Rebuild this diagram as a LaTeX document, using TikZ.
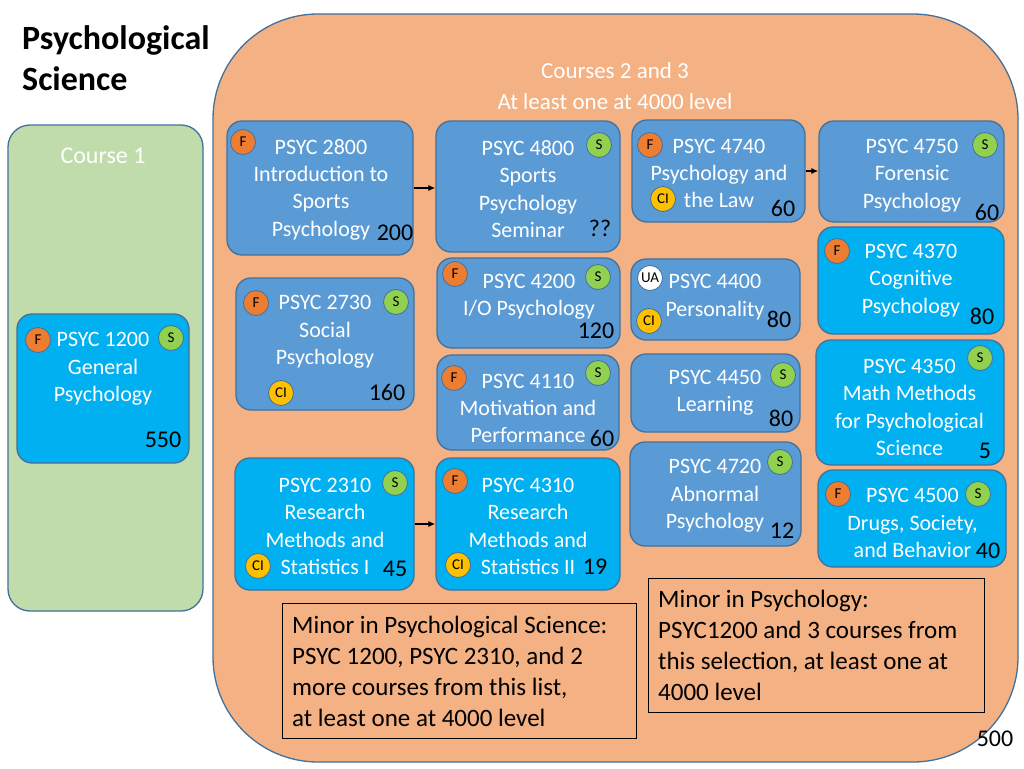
\documentclass[tikz,border=0pt]{standalone}
\usepackage{fontspec}
\setmainfont{Carlito}
\usetikzlibrary{fit,arrows.meta}
\definecolor{orangebg}{HTML}{F4B183}
\definecolor{greenbg}{HTML}{C0DCAA}
\definecolor{steelc}{HTML}{5B9BD5}
\definecolor{brightc}{HTML}{00B0F0}
\definecolor{bordc}{HTML}{41719C}
\definecolor{fbadge}{HTML}{ED7D31}
\definecolor{sbadge}{HTML}{92D050}
\definecolor{cibadge}{HTML}{FFC000}
\tikzset{
 coursebox/.style={draw=bordc, line width=1.3pt, rounded corners=15pt, inner sep=0pt},
 steel/.style={coursebox, fill=steelc},
 bright/.style={coursebox, fill=brightc},
 ctext/.style={text=white, align=center, font=\fontsize{22}{27.3}\selectfont, inner sep=0pt},
 num/.style={text=black, font=\fontsize{24}{28}\selectfont, inner sep=0pt},
 badge/.style={circle, draw=bordc, line width=0.8pt, minimum size=25pt, inner sep=0pt, font=\fontsize{15}{17}\selectfont, text=black},
 fb/.style={badge, fill=fbadge},
 sb/.style={badge, fill=sbadge},
 cib/.style={badge, fill=cibadge},
 uab/.style={badge, fill=white},
 arr/.style={-{Latex[length=7pt,width=6pt]}, line width=1.2pt, black},
 minorbox/.style={draw=black, line width=1pt, inner sep=0pt},
 minortext/.style={text=black, align=left, font=\fontsize{25}{31}\selectfont, inner sep=0pt, anchor=west},
}
\begin{document}
\begin{tikzpicture}[x=1pt,y=-1pt]
\useasboundingbox (0,0) rectangle (1024,768);
\fill[white] (0,0) rectangle (1024,768);

% title
\node[anchor=west, align=left, inner sep=0pt, font=\fontsize{34}{41}\selectfont\bfseries] (title) at (22,58) {Psychological\\Science};

% big areas
\node[fit={(213,14) (1018,762)}, draw=bordc, line width=1.3pt, fill=orangebg, rounded corners=105pt, inner sep=0pt] (outer) {};
\node[fit={(8,125) (203,611)}, draw=bordc, line width=1.3pt, fill=greenbg, rounded corners=22pt, inner sep=0pt] (green) {};

\node[text=white, align=center, inner sep=0pt, font=\fontsize{23}{31}\selectfont] (hdr) at (615,86.5) {Courses 2 and 3\\At least one at 4000 level};
\node[text=white, inner sep=0pt, font=\fontsize{24}{28}\selectfont] (c1lab) at (103,156) {Course 1};

% course boxes
\node[steel, fit={(227,121) (413,255)}] (c2800) {};
\node[steel, fit={(436,121) (620,252)}] (c4800) {};
\node[steel, fit={(632,120) (805,222)}] (c4740) {};
\node[steel, fit={(819,121) (1004,222)}] (c4750) {};
\node[bright, fit={(818,227) (1004,334)}] (c4370) {};
\node[steel, fit={(437,258) (620,348)}] (c4200) {};
\node[steel, fit={(631,259) (800,340)}] (c4400) {};
\node[steel, fit={(236,278) (414,410)}] (c2730) {};
\node[bright, fit={(17,314) (189,463)}] (c1200) {};
\node[steel, fit={(437,355) (619,450)}] (c4110) {};
\node[steel, fit={(631,354) (800,432)}] (c4450) {};
\node[bright, fit={(816,340) (1004,465)}] (c4350) {};
\node[steel, fit={(630,442) (801,546)}] (c4720) {};
\node[bright, fit={(818,470) (1006,567)}] (c4500) {};
\node[bright, fit={(235,458) (414,590)}] (c2310) {};
\node[bright, fit={(436,458) (620,590)}] (c4310) {};

% course texts
\node[ctext] (t2800) at (321,189.5) {PSYC 2800\\Introduction to\\Sports\\Psychology};
\node[ctext] (t4800) at (528,189) {PSYC 4800\\Sports\\Psychology\\Seminar};
\node[ctext] (t4740) at (719,173.5) {PSYC 4740\\Psychology and\\the Law};
\node[ctext] (t4750) at (912,175.5) {PSYC 4750\\Forensic\\Psychology};
\node[ctext] (t4370) at (911,280.5) {PSYC 4370\\Cognitive\\Psychology};
\node[ctext] (t4200) at (529,297) {PSYC 4200\\I/O Psychology};
\node[ctext] (t4400) at (715,297) {PSYC 4400\\Personality};
\node[ctext] (t2730) at (325,332) {PSYC 2730\\Social\\Psychology};
\node[ctext] (t1200) at (103,369) {PSYC 1200\\General\\Psychology};
\node[ctext] (t4110) at (528,408.5) {PSYC 4110\\Motivation and\\Performance};
\node[ctext] (t4450) at (715,392.5) {PSYC 4450\\Learning};
\node[ctext] (t4350) at (909.5,407.5) {PSYC 4350\\Math Methods\\for Psychological\\Science};
\node[ctext] (t4720) at (715,496) {PSYC 4720\\Abnormal\\Psychology};
\node[ctext] (t4500) at (912.5,523) {PSYC 4500\\Drugs, Society,\\and Behavior};
\node[ctext] (t2310) at (325,526.5) {PSYC 2310\\Research\\Methods and\\Statistics I};
\node[ctext] (t4310) at (528,526.5) {PSYC 4310\\Research\\Methods and\\Statistics II};

% numbers
\node[num] (n2800) at (395,233) {200};
\node[num] (n4800) at (600,228) {??};
\node[num] (n4740) at (783,208) {60};
\node[num] (n4750) at (987,212) {60};
\node[num] (n4370) at (982,316) {80};
\node[num] (n4200) at (596,331) {120};
\node[num] (n4400) at (779,319) {80};
\node[num] (n2730) at (387,392) {160};
\node[num] (n1200) at (163,440) {550};
\node[num] (n4110) at (602,438) {60};
\node[num] (n4450) at (781,418) {80};
\node[num] (n4350) at (985,451) {5};
\node[num] (n4720) at (782,531) {12};
\node[num] (n4500) at (988,551) {40};
\node[num] (n2310) at (395,569) {45};
\node[num] (n4310) at (595,567) {19};
\node[num] (n500) at (995,739) {500};

% badges
\node[fb] (b2800f) at (243,142) {F};
\node[sb] (b4800s) at (599,145) {S};
\node[fb] (b4740f) at (650,145) {F};
\node[cib] (b4740c) at (663,199) {CI};
\node[sb] (b4750s) at (985,145) {S};
\node[fb] (b4370f) at (837,251) {F};
\node[fb] (b4200f) at (455,274) {F};
\node[sb] (b4200s) at (598,277) {S};
\node[uab] (b4400u) at (650,278) {UA};
\node[cib] (b4400c) at (649,321) {CI};
\node[fb] (b2730f) at (256,303) {F};
\node[sb] (b2730s) at (396,302) {S};
\node[cib] (b2730c) at (281,393) {CI};
\node[fb] (b1200f) at (38,340) {F};
\node[sb] (b1200s) at (171,338) {S};
\node[fb] (b4110f) at (454,378) {F};
\node[sb] (b4110s) at (598,373) {S};
\node[sb] (b4450s) at (783,375) {S};
\node[sb] (b4350s) at (980,358) {S};
\node[sb] (b4720s) at (780,462) {S};
\node[fb] (b4500f) at (838,494) {F};
\node[sb] (b4500s) at (978,494) {S};
\node[sb] (b2310s) at (395,483) {S};
\node[cib] (b2310c) at (258,566) {CI};
\node[fb] (b4310f) at (455,481) {F};
\node[cib] (b4310c) at (458,565) {CI};

% arrows
\draw[arr] (c2800.east) -- (c2800.east -| c4800.west);
\draw[arr] (c4740.east) -- (c4740.east -| c4750.west);
\draw[arr] (c2310.east) -- (c2310.east -| c4310.west);

% minor boxes
\node[minorbox, fit={(282,603) (636,738)}] (minorA) {};
\node[minortext] (minorAt) at (292,671.5) {Minor in Psychological Science:\\PSYC 1200, PSYC 2310, and 2\\more courses from this list,\\at least one at 4000 level};
\node[minorbox, fit={(648,578) (984,712)}] (minorB) {};
\node[minortext] (minorBt) at (658,645) {Minor in Psychology:\\PSYC1200 and 3 courses from\\this selection, at least one at\\4000 level};
\end{tikzpicture}
\end{document}
